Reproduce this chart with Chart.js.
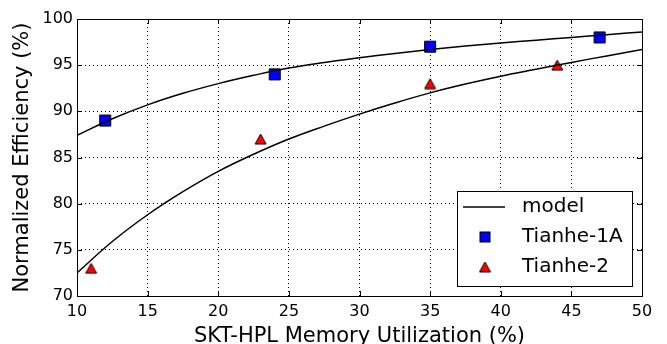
<!DOCTYPE html>
<html>
<head>
<meta charset="utf-8">
<script src="https://cdn.jsdelivr.net/npm/chart.js@4.4.1/dist/chart.umd.min.js"></script>
<style>
  html, body { margin: 0; padding: 0; background: #fff; }
</style>
</head>
<body>
<canvas id="effChart" width="667" height="344"></canvas>
<script>
// tick labels
const xTicks = [10, 15, 20, 25, 30, 35, 40, 45, 50];
const yTicks = [70, 75, 80, 85, 90, 95, 100];

// measured points
const tianhe1aX = [12, 24, 35, 47];
const tianhe1aY = [89, 94, 97, 98];
const tianhe2X = [11, 23, 35, 44];
const tianhe2Y = [73, 87, 93, 95];

// model curves, every 2.5 %
const modelX = [10, 12.5, 15, 17.5, 20, 22.5, 25, 27.5, 30, 32.5, 35, 37.5, 40, 42.5, 45, 47.5, 50];
const model1aY = [87.4, 89.2, 90.7, 91.95, 93.0, 93.9, 94.7, 95.3, 95.8, 96.27, 96.7, 97.07, 97.4, 97.7, 98.0, 98.3, 98.6];
const model2Y = [72.5, 75.9, 78.8, 81.3, 83.5, 85.35, 87.0, 88.4, 89.7, 90.9, 92.0, 92.95, 93.8, 94.55, 95.3, 96.0, 96.7];

const toPts = (xs, ys) => xs.map((x, i) => ({ x: x, y: ys[i] }));

const FONT = 'DejaVu Sans';

// matplotlib-style '^' marker, centred on its bounding box
function triMarker(w, h, fill) {
  const c = document.createElement('canvas');
  c.width = w + 2;
  c.height = h + 2;
  const g = c.getContext('2d');
  g.fillStyle = fill;
  g.strokeStyle = '#000';
  g.lineWidth = 1;
  g.beginPath();
  g.moveTo(c.width / 2, 1);
  g.lineTo(w + 1, h + 1);
  g.lineTo(1, h + 1);
  g.closePath();
  g.fill();
  g.stroke();
  return c;
}
const redTri = triMarker(11, 10, '#ff0000');

// frame on all four sides + inward ticks
const frameTicks = {
  id: 'frameTicks',
  afterDatasetsDraw(chart) {
    const { ctx, chartArea: a, scales } = chart;
    const len = 5;
    ctx.save();
    ctx.strokeStyle = '#000';
    ctx.lineWidth = 1;
    ctx.beginPath();
    xTicks.forEach(v => {
      const px = Math.round(scales.x.getPixelForValue(v)) + 0.5;
      ctx.moveTo(px, a.bottom); ctx.lineTo(px, a.bottom - len);
      ctx.moveTo(px, a.top); ctx.lineTo(px, a.top + len);
    });
    yTicks.forEach(v => {
      const py = Math.round(scales.y.getPixelForValue(v)) + 0.5;
      ctx.moveTo(a.left, py); ctx.lineTo(a.left + len, py);
      ctx.moveTo(a.right, py); ctx.lineTo(a.right - len, py);
    });
    ctx.stroke();
    ctx.strokeRect(Math.round(a.left) + 0.5, Math.round(a.top) + 0.5,
      Math.round(a.right - a.left), Math.round(a.bottom - a.top));
    ctx.restore();
  }
};

// legend box inside the plot, lower right
const boxLegend = {
  id: 'boxLegend',
  afterDraw(chart) {
    const ctx = chart.ctx;
    const a = chart.chartArea;
    const x0 = a.right - 185, y0 = a.bottom - 105, w = 175, h = 95;
    ctx.save();
    ctx.fillStyle = '#fff';
    ctx.fillRect(x0, y0, w, h);
    ctx.strokeStyle = '#000';
    ctx.lineWidth = 1;
    ctx.strokeRect(x0 + 0.5, y0 + 0.5, w, h);

    ctx.font = '20px "' + FONT + '"';
    ctx.textBaseline = 'middle';
    ctx.fillStyle = '#000';
    const rows = [y0 + 16, y0 + 46, y0 + 76];
    const mx = x0 + 28, tx = x0 + 65;

    // model line
    ctx.lineWidth = 1.5;
    ctx.beginPath();
    ctx.moveTo(x0 + 6, rows[0]); ctx.lineTo(x0 + 48, rows[0]);
    ctx.stroke();
    ctx.fillText('model', tx, rows[0]);

    // square
    ctx.lineWidth = 1;
    ctx.fillStyle = '#0000ff';
    ctx.fillRect(mx - 5, rows[1] - 5, 10, 10);
    ctx.strokeRect(mx - 5, rows[1] - 5, 10, 10);
    ctx.fillStyle = '#000';
    ctx.fillText('Tianhe-1A', tx, rows[1]);

    // triangle
    ctx.drawImage(redTri, mx - redTri.width / 2, rows[2] - redTri.height / 2);
    ctx.fillText('Tianhe-2', tx, rows[2]);
    ctx.restore();
  }
};

const ctx = document.getElementById('effChart').getContext('2d');

new Chart(ctx, {
  type: 'scatter',
  data: {
    datasets: [
      {
        label: 'model',
        type: 'line',
        data: toPts(modelX, model1aY),
        borderColor: '#000',
        borderWidth: 1.5,
        pointRadius: 0,
        tension: 0.4,
        fill: false
      },
      {
        label: 'model',
        type: 'line',
        data: toPts(modelX, model2Y),
        borderColor: '#000',
        borderWidth: 1.5,
        pointRadius: 0,
        tension: 0.4,
        fill: false
      },
      {
        label: 'Tianhe-1A',
        data: toPts(tianhe1aX, tianhe1aY),
        pointStyle: 'rect',
        pointRadius: 7.8,
        backgroundColor: '#0000ff',
        borderColor: '#000',
        borderWidth: 1
      },
      {
        label: 'Tianhe-2',
        data: toPts(tianhe2X, tianhe2Y),
        pointStyle: redTri,
        pointRadius: 6,
        backgroundColor: '#ff0000',
        borderColor: '#000',
        borderWidth: 1
      }
    ]
  },
  options: {
    responsive: false,
    animation: false,
    layout: { padding: { left: 0, top: 19, right: 25, bottom: 0 } },
    plugins: {
      legend: { display: false },
      tooltip: { enabled: false }
    },
    scales: {
      x: {
        type: 'linear',
        min: 10,
        max: 50,
        afterFit: s => { s.height = 48; },
        afterBuildTicks: s => { s.ticks = xTicks.map(v => ({ value: v })); },
        ticks: { color: '#000', padding: 6, font: { family: FONT, size: 16 } },
        grid: { color: '#000', lineWidth: 1, drawTicks: false },
        border: { display: false, dash: [1, 3] },
        title: {
          display: true,
          text: 'SKT-HPL Memory Utilization (%)',
          color: '#000',
          font: { family: FONT, size: 21 },
          padding: { bottom: -5, top: 0 }
        }
      },
      y: {
        min: 70,
        max: 100,
        afterFit: s => { s.width = 77; },
        afterBuildTicks: s => { s.ticks = yTicks.map(v => ({ value: v })); },
        ticks: { color: '#000', padding: 4, font: { family: FONT, size: 16 } },
        grid: { color: '#000', lineWidth: 1, drawTicks: false },
        border: { display: false, dash: [1, 3] },
        title: {
          display: true,
          text: 'Normalized Efficiency (%)',
          color: '#000',
          font: { family: FONT, size: 21 },
          padding: { top: 10, bottom: 0 }
        }
      }
    }
  },
  plugins: [frameTicks, boxLegend]
});
</script>
</body>
</html>
